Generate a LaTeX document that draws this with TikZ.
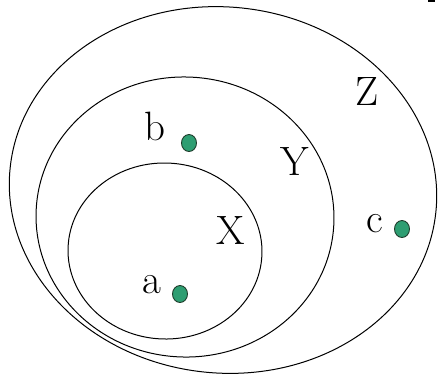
\documentclass[tikz,border=0pt]{standalone}
\usepackage{fontspec}
\usetikzlibrary{shapes.geometric}
\definecolor{dotgreen}{HTML}{2E9E72}
\definecolor{dotedge}{HTML}{1F3D2C}

\begin{document}
\begin{tikzpicture}[
  x=1pt, y=-1pt,
  setline/.style={draw=black, line width=1pt},
  dot/.style={ellipse, draw=dotedge, fill=dotgreen, line width=0.9pt, minimum width=15pt, minimum height=17pt, inner sep=0pt},
  lbl/.style={anchor=base, inner sep=0pt, font=\fontsize{41}{41}\selectfont}
]
\useasboundingbox (0,0) rectangle (439,376);
\fill[white] (0,0) rectangle (439,376);

% sets
\draw[setline, rotate around={-6:(223,190)}] (223,190) ellipse [x radius=214, y radius=183];
\draw[setline, rotate around={-3:(185,217)}] (185,217) ellipse [x radius=149, y radius=140];
\draw[setline, rotate around={-2:(165,251)}] (165,251) ellipse [x radius=97, y radius=88];

% elements
\node[dot] (ptB) at (189,143) {};
\node[dot] (ptA) at (180,294) {};
\node[dot] (ptC) at (402,229) {};

% labels
\node[lbl] (lblB) at (155,140) {b};
\node[lbl] (lblA) at (152,293) {a};
\node[lbl] (lblC) at (375,232) {c};
\node[lbl] (lblX) at (231,244) {X};
\node[lbl] (lblY) at (295,175) {Y};
\node[lbl] (lblZ) at (367,105) {Z};

\fill[black] (428,0) rectangle (435,2);
\end{tikzpicture}
\end{document}
